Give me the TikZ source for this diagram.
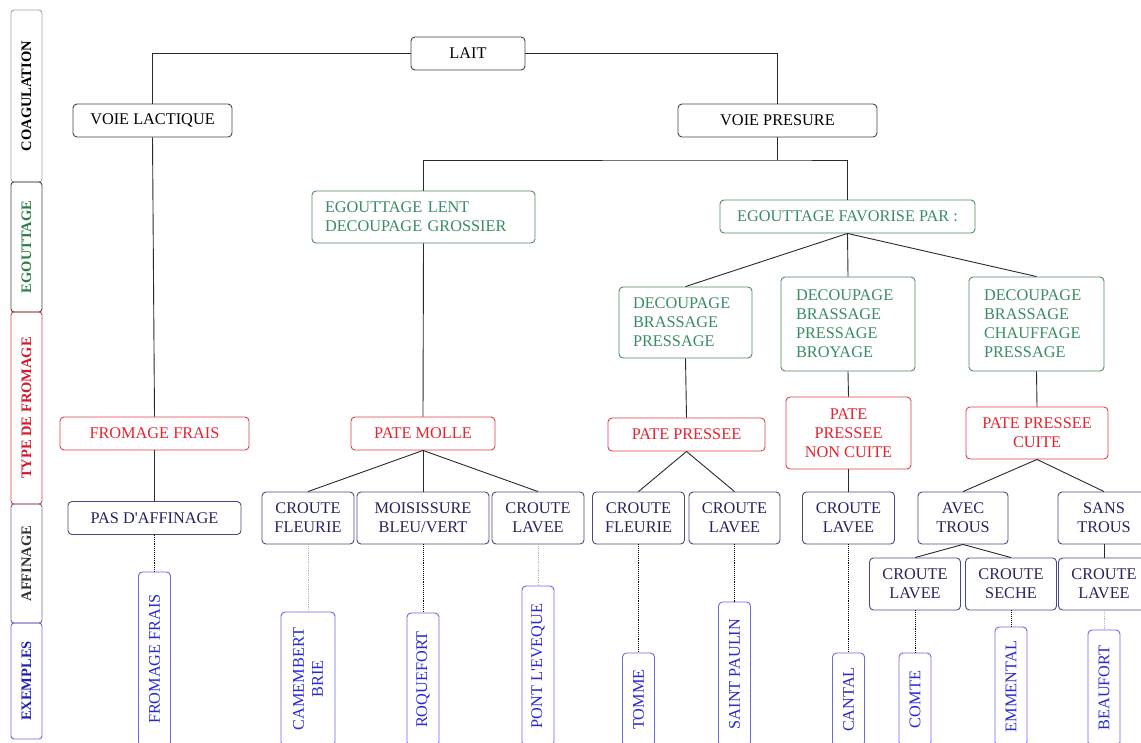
\documentclass[tikz,border=0pt]{standalone}
\usepackage{fontspec}
\setmainfont{Liberation Serif}
\definecolor{bkline}{HTML}{444444}
\definecolor{grline}{HTML}{4E8C5C}
\definecolor{grtext}{HTML}{3A8C62}
\definecolor{rdline}{HTML}{E0404C}
\definecolor{rdtext}{HTML}{E52430}
\definecolor{nvline}{HTML}{4A4A82}
\definecolor{nvtext}{HTML}{24245E}
\definecolor{exline}{HTML}{6A6AE0}
\definecolor{extext}{HTML}{2A2AD0}
\definecolor{lncol}{HTML}{2A2A2A}
\definecolor{sgreen}{HTML}{2E7D46}
\definecolor{sred}{HTML}{D41A2C}
\definecolor{sblue}{HTML}{2020B0}
\begin{document}
\begin{tikzpicture}[x=1pt,y=-1pt,
  base/.style={rounded corners=4pt, line width=0.9pt, inner sep=0pt,
    font=\fontsize{16.3}{19}\selectfont, align=center},
  sz/.style 2 args={minimum width=#1pt, minimum height=#2pt},
  bk/.style={base, draw=bkline, text=black},
  gr/.style={base, draw=grline, text=grtext},
  rd/.style={base, draw=rdline, text=rdtext},
  nv/.style={base, draw=nvline, text=nvtext},
  ex/.style={base, draw=exline, text=extext, rotate=90, fill=white},
  side/.style={rounded corners=3pt, line width=0.9pt, inner sep=0pt,
    font=\fontsize{14.5}{17}\selectfont\bfseries, rotate=90, minimum height=31pt},
  link/.style={draw=lncol, line width=0.9pt},
  dots/.style={draw=black, line width=0.9pt, densely dotted},
  gdots/.style={draw=gray!55, line width=0.8pt, densely dotted}]
\useasboundingbox (0,0) rectangle (1141,742);
\clip (0,0) rectangle (1141,742);
\fill[white] (0,0) rectangle (1141,742);

% side bar
\node[side, draw=gray!70, text=black, minimum width=172pt] (s1) at (26.5,96) {COAGULATION};
\node[side, draw=bkline, text=sgreen, minimum width=130pt] (s2) at (26.5,247) {EGOUTTAGE};
\node[side, draw=rdline, text=sred, minimum width=192pt] (s3) at (26.5,408) {TYPE DE FROMAGE};
\node[side, draw=nvline!80, text=black!80, minimum width=119pt] (s4) at (26.5,563.5) {AFFINAGE};
\node[side, draw=exline, text=sblue, minimum width=116pt] (s5) at (26.5,681) {EXEMPLES};

% level 1-2
\node[bk, sz={114}{33}] (lait) at (468,53.5) {LAIT};
\node[bk, sz={159}{33}] (vl) at (152.5,120.5) {VOIE LACTIQUE};
\node[bk, sz={199}{33}] (vp) at (777.5,120.5) {VOIE PRESURE};

% egouttage
\node[gr, sz={223}{52}, text width=197pt, align=left] (eg1) at (423.5,217) {EGOUTTAGE LENT\\DECOUPAGE GROSSIER};
\node[gr, sz={255}{33}] (egf) at (847.5,216.5) {EGOUTTAGE FAVORISE PAR :};
\node[gr, sz={133}{71}, text width=105pt, align=left] (g1) at (685.5,322.5) {DECOUPAGE\\BRASSAGE\\PRESSAGE};
\node[gr, sz={134}{94}, text width=104pt, align=left] (g2) at (848,324) {DECOUPAGE\\BRASSAGE\\PRESSAGE\\BROYAGE};
\node[gr, sz={135}{94}, text width=105pt, align=left] (g3) at (1036.5,324) {DECOUPAGE\\BRASSAGE\\CHAUFFAGE\\PRESSAGE};

% type de fromage
\node[rd, sz={189}{33}] (ff) at (154.5,433.5) {FROMAGE FRAIS};
\node[rd, sz={144}{33}] (pm) at (423,433.5) {PATE MOLLE};
\node[rd, sz={157}{33}] (pp) at (686.5,434.5) {PATE PRESSEE};
\node[rd, sz={125}{72}] (ppnc) at (848.5,433) {PATE\\PRESSEE\\NON CUITE};
\node[rd, sz={142}{52}] (ppc) at (1037,433) {PATE PRESSEE\\CUITE};

% affinage
\node[nv, sz={173}{33}] (pda) at (154.5,518) {PAS D\textquotesingle AFFINAGE};
\node[nv, sz={92}{52}] (cf1) at (308,518) {CROUTE\\FLEURIE};
\node[nv, sz={132}{52}] (mbv) at (423,518) {MOISISSURE\\BLEU/VERT};
\node[nv, sz={92}{52}] (cl1) at (538,518) {CROUTE\\LAVEE};
\node[nv, sz={92}{52}] (cf2) at (638.5,518) {CROUTE\\FLEURIE};
\node[nv, sz={91}{52}] (cl2) at (734.5,518) {CROUTE\\LAVEE};
\node[nv, sz={92}{52}] (cl3) at (848.5,518) {CROUTE\\LAVEE};
\node[nv, sz={90}{52}] (avec) at (963,518) {AVEC\\TROUS};
\node[nv, sz={92}{52}] (sans) at (1104,518) {SANS\\TROUS};
\node[nv, sz={91}{52}] (cl4) at (915,584) {CROUTE\\LAVEE};
\node[nv, sz={91}{52}] (cs) at (1011,584) {CROUTE\\SECHE};
\node[nv, sz={91}{52}] (cl5) at (1104,584) {CROUTE\\LAVEE};

% exemples (top y .. 746)
\node[ex, sz={174}{32}] (e1) at (154.5,659) {FROMAGE FRAIS};
\node[ex, sz={134}{54}] (e2) at (308,679) {CAMEMBERT\\BRIE};
\node[ex, sz={133}{32}] (e3) at (423,679.5) {ROQUEFORT};
\node[ex, sz={160}{32}] (e4) at (538,666) {PONT L\textquotesingle EVEQUE};
\node[ex, sz={93}{32}] (e5) at (638.5,699.5) {TOMME};
\node[ex, sz={144}{32}] (e6) at (734.5,674) {SAINT PAULIN};
\node[ex, sz={93}{32}] (e7) at (848.5,699.5) {CANTAL};
\node[ex, sz={93}{32}] (e8) at (915,699.5) {COMTE};
\node[ex, sz={119}{32}] (e9) at (1011,686.5) {EMMENTAL};
\node[ex, sz={116}{32}] (e10) at (1104,688) {BEAUFORT};

% connectors
\coordinate (j) at (777.5,160);
\draw[link] (lait.west) -| (vl.north);
\draw[link] (lait.east) -| (vp.north);
\draw[link] (vp.south) -- (j);
\draw[link] (eg1.north) |- (j) -| (egf.north);
\draw[link] (vl.south) -- (ff.north);
\draw[link] (eg1.south) -- (pm.north);
\draw[link] (egf.south) -- (g1.north);
\draw[link] (egf.south) -- (g2.north);
\draw[link] (egf.south) -- (g3.north);
\draw[link] (g1.south) -- (pp.north);
\draw[link] (g2.south) -- (ppnc.north);
\draw[link] (g3.south) -- (ppc.north);
\draw[link] (ff.south) -- (pda.north);
\draw[link] (pm.south) -- (cf1.north);
\draw[link] (pm.south) -- (mbv.north);
\draw[link] (pm.south) -- (cl1.north);
\draw[link] (pp.south) -- (cf2.north);
\draw[link] (pp.south) -- (cl2.north);
\draw[link] (ppnc.south) -- (cl3.north);
\draw[link] (ppc.south) -- (avec.north);
\draw[link] (ppc.south) -- (sans.north);
\draw[link] (avec.south) -- (cl4.north);
\draw[link] (avec.south) -- (cs.north);
\draw[link] (sans.south) -- (cl5.north);

\draw[dots] (pda.south) -- (e1.east);
\draw[gdots] (cf1.south) -- (e2.east);
\draw[dots] (mbv.south) -- (e3.east);
\draw[gdots] (cl1.south) -- (e4.east);
\draw[dots] (cf2.south) -- (e5.east);
\draw[dots] (cl2.south) -- (e6.east);
\draw[dots] (cl3.south) -- (e7.east);
\draw[dots] (cl4.south) -- (e8.east);
\draw[dots] (cs.south) -- (e9.east);
\draw[gdots] (cl5.south) -- (e10.east);
\end{tikzpicture}
\end{document}
